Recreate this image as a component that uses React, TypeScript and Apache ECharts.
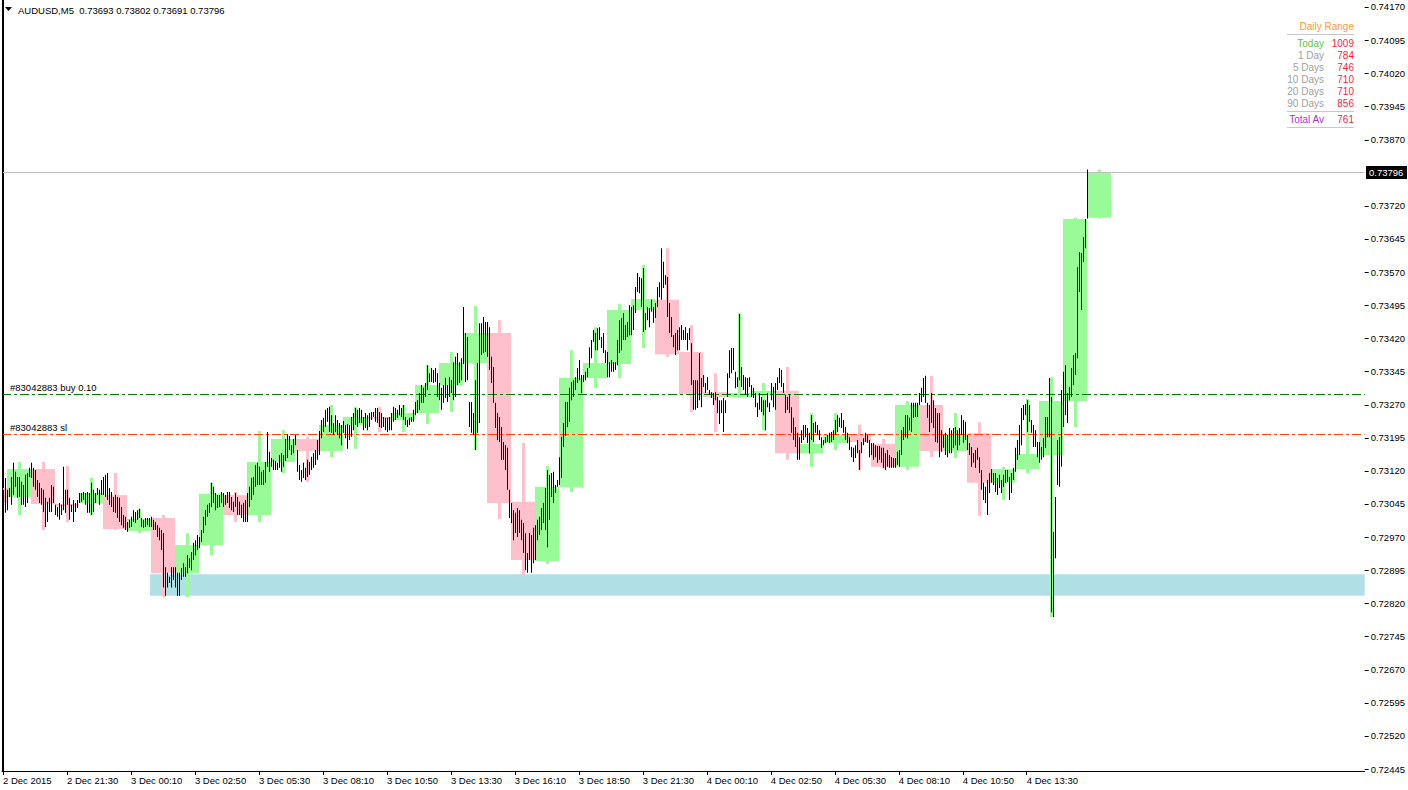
import React, { useEffect, useRef } from "react";
import * as echarts from "echarts";

// ---------------- data ----------------
const symbolName = "AUDUSD";
const periodName = "M5";
const barsPerHour = 12;
const firstHourStart = -10; // bar index at which the first (partly hidden) H1 candle begins

const timeLabelBars = [0, 32, 64, 96, 128, 160, 192, 224, 256, 288, 320, 352, 384, 416, 448, 480, 512];
const timeLabels = [
  "2 Dec 2015", "2 Dec 21:30", "3 Dec 00:10", "3 Dec 02:50", "3 Dec 05:30", "3 Dec 08:10",
  "3 Dec 10:50", "3 Dec 13:30", "3 Dec 16:10", "3 Dec 18:50", "3 Dec 21:30", "4 Dec 00:10",
  "4 Dec 02:50", "4 Dec 05:30", "4 Dec 08:10", "4 Dec 10:50", "4 Dec 13:30",
];

const priceTicks = [
  0.72445, 0.7252, 0.72595, 0.7267, 0.72745, 0.7282, 0.72895, 0.7297, 0.73045, 0.7312, 0.73195,
  0.7327, 0.73345, 0.7342, 0.73495, 0.7357, 0.73645, 0.7372, 0.7387, 0.73945, 0.7402, 0.74095, 0.7417,
];

// M5 bars, 2 Dec 18:50 .. 4 Dec 16:00
const m5High = [
  0.73077, 0.73104,
  0.73077, 0.73081, 0.73106, 0.73138, 0.73118, 0.73106, 0.73106, 0.73095, 0.73088, 0.73111, 0.73115, 0.73127,
  0.73138, 0.73127, 0.73122, 0.73099, 0.73093, 0.73081, 0.73077, 0.73059, 0.7305, 0.73059, 0.73088, 0.73084,
  0.73043, 0.73038, 0.73047, 0.73043, 0.73129, 0.73077, 0.73077, 0.73059, 0.73043, 0.73054, 0.73047, 0.73054,
  0.7307, 0.7307, 0.73072, 0.7307, 0.73072, 0.7307, 0.73093, 0.73077, 0.7307, 0.73081, 0.73077, 0.73099,
  0.73106, 0.73111, 0.73115, 0.73081, 0.73072, 0.73061, 0.73065, 0.73061, 0.73059, 0.73038, 0.7302, 0.73016,
  0.73004, 0.73009, 0.73016, 0.73031, 0.73027, 0.73031, 0.73034, 0.73013, 0.73009, 0.73013, 0.73013, 0.73013,
  0.73016, 0.73009, 0.73004, 0.72997, 0.72991, 0.72986, 0.72979, 0.72902, 0.72889, 0.7288, 0.72902, 0.72902,
  0.72902, 0.72889, 0.72889, 0.729, 0.72911, 0.72902, 0.72929, 0.72922, 0.72936, 0.72957, 0.72963, 0.72975,
  0.7297, 0.72986, 0.73016, 0.73031, 0.73043, 0.73047, 0.73093, 0.73084, 0.7307, 0.73065, 0.73065, 0.73072,
  0.7307, 0.73065, 0.73072, 0.73072, 0.73061, 0.7305, 0.7307, 0.73061, 0.7305, 0.73043, 0.73047, 0.73054,
  0.7307, 0.73084, 0.73104, 0.73106, 0.73133, 0.73138, 0.73129, 0.73118, 0.73122, 0.7314, 0.73208, 0.73163,
  0.73149, 0.73145, 0.73142, 0.73138, 0.73156, 0.7316, 0.73156, 0.73192, 0.73203, 0.73199, 0.73178, 0.73192,
  0.73201, 0.73167, 0.73133, 0.73122, 0.73138, 0.73127, 0.73145, 0.7314, 0.73152, 0.7316, 0.73167, 0.7319,
  0.7321, 0.73235, 0.7324, 0.73258, 0.73262, 0.73265, 0.73246, 0.73228, 0.73246, 0.73235, 0.73228, 0.73224,
  0.73233, 0.73224, 0.73226, 0.73224, 0.73242, 0.73251, 0.73262, 0.73258, 0.73262, 0.73258, 0.73242, 0.73251,
  0.73246, 0.73251, 0.73253, 0.73253, 0.73262, 0.73262, 0.73253, 0.73251, 0.73242, 0.7324, 0.7324, 0.73242,
  0.73251, 0.73265, 0.73262, 0.73258, 0.73269, 0.73262, 0.73269, 0.73242, 0.73235, 0.7324, 0.73242, 0.73258,
  0.73276, 0.7328, 0.73296, 0.73314, 0.73308, 0.73319, 0.73359, 0.73341, 0.73353, 0.73348, 0.73353, 0.73341,
  0.73319, 0.73308, 0.73314, 0.7333, 0.73314, 0.73332, 0.73325, 0.73366, 0.73378, 0.73387, 0.73366, 0.73375,
  0.73491, 0.73432, 0.73423, 0.73276, 0.73276, 0.73251, 0.73325, 0.73364, 0.73454, 0.73454, 0.73468, 0.73457,
  0.73457, 0.73445, 0.73378, 0.73355, 0.73274, 0.73251, 0.73242, 0.73219, 0.73185, 0.73178, 0.73172, 0.73077,
  0.73047, 0.73031, 0.73025, 0.73036, 0.73031, 0.73009, 0.73002, 0.72979, 0.72934, 0.72979, 0.72975, 0.72991,
  0.72997, 0.73009, 0.73016, 0.73036, 0.73047, 0.73081, 0.73122, 0.73111, 0.73115, 0.73118, 0.73088, 0.73099,
  0.73151, 0.73197, 0.73228, 0.73276, 0.73276, 0.73308, 0.73321, 0.73325, 0.73332, 0.73353, 0.73371, 0.73337,
  0.73337, 0.73344, 0.73353, 0.734, 0.73416, 0.73439, 0.73432, 0.73443, 0.73445, 0.73423, 0.73432, 0.73393,
  0.73389, 0.73366, 0.73371, 0.73366, 0.73366, 0.73416, 0.73461, 0.73466, 0.73477, 0.7345, 0.73457, 0.73495,
  0.73491, 0.73495, 0.73536, 0.73568, 0.73559, 0.73556, 0.73579, 0.73477, 0.73491, 0.73488, 0.73507, 0.73491,
  0.735, 0.73536, 0.73547, 0.73624, 0.73593, 0.73563, 0.73559, 0.735, 0.73468, 0.73427, 0.73432, 0.73439,
  0.73445, 0.7345, 0.73439, 0.73445, 0.73432, 0.73443, 0.73409, 0.73325, 0.73325, 0.73325, 0.73387, 0.7333,
  0.73337, 0.73319, 0.73332, 0.73303, 0.73298, 0.73296, 0.73298, 0.73287, 0.7328, 0.7328, 0.73285, 0.7328,
  0.73341, 0.73393, 0.73398, 0.73398, 0.73344, 0.73332, 0.73475, 0.73355, 0.73337, 0.73332, 0.7333, 0.73332,
  0.73314, 0.73308, 0.73296, 0.73274, 0.73296, 0.73287, 0.7328, 0.7328, 0.73296, 0.73274, 0.73319, 0.7331,
  0.73319, 0.73332, 0.73353, 0.73348, 0.73319, 0.73292, 0.73287, 0.73292, 0.73264, 0.7324, 0.73219, 0.73206,
  0.73196, 0.73212, 0.73224, 0.73224, 0.73217, 0.73206, 0.73246, 0.73228, 0.73231, 0.73224, 0.73212, 0.73196,
  0.7319, 0.73196, 0.73201, 0.73206, 0.73208, 0.73212, 0.73235, 0.73246, 0.7324, 0.73251, 0.73235, 0.73219,
  0.73206, 0.73196, 0.73174, 0.73172, 0.73178, 0.7319, 0.73167, 0.73185, 0.73194, 0.73206, 0.73201, 0.7319,
  0.73183, 0.73183, 0.73178, 0.73176, 0.73176, 0.73172, 0.73172, 0.7316, 0.73167, 0.73156, 0.73151, 0.73149,
  0.73149, 0.73163, 0.73167, 0.73212, 0.73219, 0.73246, 0.73246, 0.7324, 0.73274, 0.73274, 0.73274, 0.73274,
  0.73296, 0.73308, 0.7333, 0.73335, 0.73274, 0.73269, 0.73296, 0.7328, 0.73262, 0.73251, 0.73251, 0.73212,
  0.73201, 0.73206, 0.73201, 0.73217, 0.73212, 0.73217, 0.73219, 0.73212, 0.73217, 0.73246, 0.73235, 0.73231,
  0.73201, 0.73183, 0.73174, 0.7316, 0.73167, 0.73172, 0.73151, 0.73122, 0.73093, 0.73084, 0.73099, 0.73115,
  0.73124, 0.73115, 0.73115, 0.73104, 0.73111, 0.73099, 0.73111, 0.73122, 0.73122, 0.73106, 0.73115, 0.73127,
  0.73172, 0.7319, 0.73224, 0.73262, 0.73269, 0.73271, 0.7328, 0.73269, 0.73235, 0.73224, 0.73212, 0.73185,
  0.73185, 0.73174, 0.73194, 0.73242, 0.73242, 0.7333, 0.73287, 0.72982, 0.73061, 0.7319, 0.73196, 0.73303,
  0.73344, 0.73359, 0.73296, 0.7331, 0.73353, 0.73382, 0.73387, 0.73581, 0.73615, 0.73613, 0.73649, 0.7369,
  0.73802,
];

const m5Low = [
  0.73043, 0.73025,
  0.73031, 0.73061, 0.73043, 0.73065, 0.73084, 0.73059, 0.73061, 0.73043, 0.73043, 0.73038, 0.73047, 0.73106,
  0.73104, 0.73084, 0.73077, 0.73061, 0.73047, 0.73043, 0.73027, 0.72993, 0.73004, 0.73027, 0.73027, 0.73047,
  0.7302, 0.73016, 0.73009, 0.7302, 0.73031, 0.73025, 0.73043, 0.73009, 0.73027, 0.73004, 0.73027, 0.73036,
  0.73047, 0.7305, 0.73054, 0.73043, 0.73025, 0.73025, 0.7302, 0.73027, 0.73047, 0.73065, 0.73043, 0.73065,
  0.73065, 0.73061, 0.73054, 0.73043, 0.73038, 0.73027, 0.73025, 0.73013, 0.73004, 0.72997, 0.72991, 0.72986,
  0.72982, 0.72991, 0.72993, 0.73004, 0.73002, 0.73009, 0.73013, 0.72993, 0.72991, 0.72993, 0.72997, 0.72993,
  0.72993, 0.72986, 0.72986, 0.7297, 0.72963, 0.72941, 0.72856, 0.72837, 0.72856, 0.72866, 0.72856, 0.72873,
  0.72856, 0.72837, 0.72837, 0.72873, 0.7288, 0.7288, 0.72888, 0.729, 0.72895, 0.72918, 0.72929, 0.72941,
  0.72945, 0.72959, 0.72979, 0.72997, 0.73016, 0.73025, 0.73038, 0.73047, 0.73031, 0.73036, 0.73038, 0.73047,
  0.73038, 0.73043, 0.73047, 0.73036, 0.73031, 0.73027, 0.73038, 0.7302, 0.7302, 0.73013, 0.73004, 0.73004,
  0.73004, 0.73038, 0.73054, 0.73065, 0.73084, 0.73088, 0.73088, 0.73088, 0.73088, 0.73093, 0.73129, 0.73118,
  0.73129, 0.73122, 0.73122, 0.73122, 0.73127, 0.73118, 0.73129, 0.73142, 0.73149, 0.73167, 0.73156, 0.7316,
  0.73178, 0.73118, 0.73099, 0.73095, 0.73104, 0.73099, 0.73106, 0.73111, 0.73122, 0.73127, 0.73133, 0.73145,
  0.73156, 0.73194, 0.73208, 0.73219, 0.73231, 0.73208, 0.73206, 0.73201, 0.73208, 0.73201, 0.73194, 0.73178,
  0.73206, 0.73194, 0.7317, 0.7319, 0.73197, 0.73212, 0.73224, 0.73219, 0.73228, 0.73228, 0.73212, 0.73217,
  0.73212, 0.73219, 0.73235, 0.73242, 0.73231, 0.73228, 0.73219, 0.73217, 0.73219, 0.73212, 0.73208, 0.73212,
  0.73212, 0.73231, 0.73235, 0.7324, 0.73246, 0.73242, 0.73235, 0.73224, 0.73219, 0.73224, 0.73231, 0.73231,
  0.73246, 0.73251, 0.73258, 0.73274, 0.73274, 0.73287, 0.73303, 0.73321, 0.73321, 0.73319, 0.73321, 0.73287,
  0.7328, 0.73258, 0.73274, 0.73285, 0.73276, 0.73287, 0.73296, 0.7328, 0.73287, 0.73314, 0.73319, 0.73325,
  0.73362, 0.73321, 0.73325, 0.73219, 0.73206, 0.73201, 0.73167, 0.73206, 0.73228, 0.73382, 0.73387, 0.73389,
  0.73378, 0.73348, 0.73319, 0.73274, 0.73217, 0.7319, 0.73185, 0.73145, 0.73145, 0.73122, 0.73077, 0.73013,
  0.73002, 0.72963, 0.72979, 0.7297, 0.72979, 0.72963, 0.72934, 0.72895, 0.72889, 0.72918, 0.72889, 0.72911,
  0.72918, 0.72963, 0.72975, 0.72986, 0.73002, 0.72986, 0.72947, 0.73009, 0.73061, 0.73047, 0.7307, 0.73084,
  0.73088, 0.73104, 0.73174, 0.73199, 0.73219, 0.73231, 0.7328, 0.73287, 0.73303, 0.73319, 0.73325, 0.73296,
  0.73321, 0.73325, 0.73332, 0.73353, 0.73375, 0.73412, 0.73393, 0.73393, 0.73416, 0.73398, 0.73387, 0.73364,
  0.73332, 0.73332, 0.73344, 0.73344, 0.73348, 0.73359, 0.73387, 0.73393, 0.73416, 0.73416, 0.73423, 0.73427,
  0.73427, 0.73439, 0.73477, 0.73525, 0.73522, 0.73491, 0.73434, 0.73439, 0.73461, 0.73445, 0.7348, 0.73455,
  0.73466, 0.73491, 0.73513, 0.73507, 0.73534, 0.73541, 0.73468, 0.73432, 0.73423, 0.734, 0.73382, 0.73393,
  0.73393, 0.73416, 0.73416, 0.73416, 0.73393, 0.73416, 0.73314, 0.73258, 0.73258, 0.73262, 0.7328, 0.73264,
  0.7331, 0.73296, 0.73303, 0.73292, 0.73285, 0.73269, 0.7328, 0.73251, 0.73226, 0.73251, 0.73208, 0.73251,
  0.73287, 0.7333, 0.73341, 0.73348, 0.73307, 0.7331, 0.73325, 0.7331, 0.73303, 0.73292, 0.73287, 0.7331,
  0.73287, 0.73285, 0.73264, 0.73242, 0.73258, 0.73253, 0.73246, 0.73212, 0.73264, 0.73253, 0.7328, 0.73264,
  0.73258, 0.73303, 0.73319, 0.7331, 0.73296, 0.73251, 0.73258, 0.73251, 0.73206, 0.7319, 0.73174, 0.73145,
  0.73145, 0.73183, 0.7319, 0.73196, 0.73183, 0.7316, 0.7319, 0.73185, 0.73206, 0.73201, 0.7319, 0.73172,
  0.73178, 0.73183, 0.73185, 0.73183, 0.73185, 0.7319, 0.73201, 0.73208, 0.73219, 0.73217, 0.73206, 0.7319,
  0.73183, 0.73167, 0.73151, 0.7314, 0.73149, 0.7316, 0.73122, 0.7316, 0.73178, 0.73185, 0.73183, 0.73151,
  0.73156, 0.73145, 0.73151, 0.73138, 0.73145, 0.73138, 0.73127, 0.73122, 0.73129, 0.73127, 0.73127, 0.73127,
  0.73127, 0.73133, 0.73129, 0.73156, 0.7319, 0.73196, 0.73194, 0.73212, 0.73208, 0.7324, 0.73242, 0.73242,
  0.73269, 0.73276, 0.73287, 0.73274, 0.7324, 0.73208, 0.73228, 0.73217, 0.73185, 0.73183, 0.73151, 0.73163,
  0.73172, 0.73156, 0.73151, 0.7316, 0.7316, 0.73172, 0.73178, 0.73167, 0.73178, 0.73201, 0.73183, 0.7319,
  0.73167, 0.73156, 0.73129, 0.73138, 0.73127, 0.73145, 0.73115, 0.73077, 0.73054, 0.73047, 0.7302, 0.7307,
  0.73093, 0.73088, 0.73072, 0.73065, 0.73081, 0.7307, 0.73084, 0.73093, 0.73095, 0.73054, 0.7307, 0.73099,
  0.73118, 0.73145, 0.73156, 0.73178, 0.73235, 0.73246, 0.73208, 0.73231, 0.73206, 0.73174, 0.73174, 0.73151,
  0.73138, 0.73145, 0.73151, 0.73172, 0.73196, 0.73196, 0.728, 0.72789, 0.72922, 0.73088, 0.73084, 0.73129,
  0.73219, 0.73246, 0.73228, 0.7328, 0.73287, 0.73314, 0.73337, 0.73375, 0.73525, 0.73484, 0.73593, 0.73624,
  0.73691,
];
const lastOpen = 0.73693;
const lastClose = 0.73796;

// H1 candles, 2 Dec 18:00 .. 4 Dec 16:00
const h1Open = [
  0.73081, 0.73061, 0.73124, 0.73045, 0.73047, 0.73065, 0.72984, 0.73013, 0.72888, 0.72952, 0.73065, 0.7302,
  0.7314, 0.73192, 0.73165, 0.73224, 0.73242, 0.73235, 0.73251, 0.73314, 0.73364, 0.73432, 0.7305, 0.72916,
  0.73083, 0.7333, 0.73362, 0.73484, 0.73507, 0.73389, 0.73298, 0.73287, 0.73292, 0.73301, 0.7316, 0.73183,
  0.73201, 0.73181, 0.73129, 0.73269, 0.73165, 0.73205, 0.73093, 0.73124, 0.73156, 0.73278, 0.73693,
];
const h1High = [
  0.7311, 0.7314, 0.7314, 0.73131, 0.73104, 0.73115, 0.73034, 0.7302, 0.72979, 0.73093, 0.73072, 0.7321,
  0.73212, 0.73197, 0.73269, 0.73265, 0.73265, 0.73269, 0.73359, 0.73389, 0.73493, 0.73461, 0.73183, 0.73131,
  0.73393, 0.73445, 0.73498, 0.73586, 0.73624, 0.7345, 0.73341, 0.73477, 0.73319, 0.73355, 0.73251, 0.73251,
  0.73224, 0.73192, 0.73278, 0.73335, 0.73251, 0.7323, 0.73129, 0.73283, 0.73332, 0.73693, 0.73802,
];
const h1Low = [
  0.7302, 0.7302, 0.72986, 0.73004, 0.7302, 0.72986, 0.72979, 0.72834, 0.72834, 0.72929, 0.73004, 0.73004,
  0.73115, 0.73095, 0.73151, 0.7317, 0.73208, 0.73208, 0.73226, 0.73253, 0.73167, 0.73011, 0.72884, 0.72909,
  0.73072, 0.73307, 0.7333, 0.73398, 0.73378, 0.73253, 0.73208, 0.73285, 0.73212, 0.73145, 0.73129, 0.73167,
  0.73122, 0.73124, 0.73122, 0.73151, 0.73149, 0.73018, 0.73054, 0.73115, 0.72789, 0.73219, 0.73691,
];
const h1Close = [
  0.73047, 0.73124, 0.73045, 0.7304, 0.7307, 0.72988, 0.73011, 0.72888, 0.72952, 0.73068, 0.7302, 0.7314,
  0.73192, 0.73165, 0.73224, 0.73242, 0.73237, 0.73251, 0.73314, 0.73364, 0.73432, 0.73047, 0.72918, 0.73084,
  0.7333, 0.73364, 0.73484, 0.73509, 0.73384, 0.73294, 0.73287, 0.73296, 0.73301, 0.7316, 0.73181, 0.73201,
  0.73185, 0.73129, 0.73269, 0.73165, 0.73203, 0.73093, 0.73124, 0.73158, 0.73278, 0.7369, 0.73796,
];

// order lines and support zone
const orderTicket = "#83042883";
const buyLots = "0.10";
const buyPrice = 0.73294;
const slPrice = 0.73203;
const zoneStartBar = 74;
const zoneTop = 0.72886;
const zoneBottom = 0.72837;

// daily range panel
const rangeTitle = "Daily Range";
const rangeLabels = ["Today", "1 Day", "5 Days", "10 Days", "20 Days", "90 Days"];
const rangeValues = [1009, 784, 746, 710, 710, 856];
const totalAvLabel = "Total Av";
const totalAvValue = 761;

// ---------------- styles ----------------
const FONT = 'Tahoma, "Liberation Sans", Arial, sans-serif';
const FS = 9.5;
const GREEN = "#98FB98";
const PINK = "#FFC0CB";
const X_MIN = -0.5;
const X_MAX = 681;

const levelPrices = [lastClose, buyPrice, slPrice];
const levelColors = ["#C0C0C0", "#008000", "#FF4500"];
const levelDash: (number[] | null)[] = [null, [9, 3, 3, 3], [9, 3, 3, 3]];
const levelTexts = ["", `${orderTicket} buy ${buyLots}`, `${orderTicket} sl`];

export default function App() {
  const ref = useRef<HTMLDivElement>(null);

  useEffect(() => {
    const el = ref.current;
    if (!el) return;
    const chart = echarts.init(el, null, { renderer: "svg" });

    const m5Data = m5High.map((h, i) => [i, m5Low[i], h]);
    const h1Data = h1Open.map((o, k) => [firstHourStart + k * barsPerHour, o, h1High[k], h1Low[k], h1Close[k]]);
    const levelData = levelPrices.map((p, k) => [0, p, k]);
    const tickData = priceTicks.map((p) => [0, p]);

    chart.setOption({
      animation: false,
      backgroundColor: "#ffffff",
      grid: { left: 2, right: 43, top: 0, bottom: 19, containLabel: false },
      xAxis: {
        type: "value",
        min: X_MIN,
        max: X_MAX,
        splitLine: { show: false },
        axisLine: { show: true, onZero: false, lineStyle: { color: "#000", width: 1 } },
        axisTick: { show: true, customValues: timeLabelBars, length: 4, lineStyle: { color: "#000" } },
        axisLabel: {
          show: true,
          customValues: timeLabelBars,
          formatter: (v: number) => {
            const k = timeLabelBars.indexOf(Math.round(v));
            return k >= 0 ? timeLabels[k] : "";
          },
          align: "left",
          margin: 4,
          color: "#000",
          fontSize: FS,
          fontFamily: FONT,
        },
      },
      yAxis: {
        type: "value",
        position: "right",
        min: 0.724405,
        max: 0.741858,
        splitLine: { show: false },
        axisLine: { show: true, lineStyle: { color: "#000", width: 1 } },
        axisTick: { show: false },
        axisLabel: {
          customValues: priceTicks,
          formatter: (v: number) => v.toFixed(5),
          margin: 6,
          color: "#000",
          fontSize: FS,
          fontFamily: FONT,
        },
      },
      series: [
        {
          type: "line",
          data: [],
          z: 1,
          silent: true,
          markArea: {
            silent: true,
            itemStyle: { color: "#B0E0E6", opacity: 1 },
            data: [[{ xAxis: zoneStartBar - 0.5, yAxis: zoneTop }, { xAxis: X_MAX, yAxis: zoneBottom }]],
          },
        },
        {
          type: "custom",
          z: 2,
          clip: true,
          silent: true,
          encode: { x: 0, y: [1, 2, 3, 4] },
          data: h1Data,
          renderItem: (params: any, api: any) => {
            const s = api.value(0);
            const o = api.value(1);
            const h = api.value(2);
            const l = api.value(3);
            const c = api.value(4);
            const pO = api.coord([s, o]);
            const pC = api.coord([s, c]);
            const pH = api.coord([s + barsPerHour / 2, h]);
            const pL = api.coord([s, l]);
            const pEnd = api.coord([s + barsPerHour, o]);
            const color = c >= o ? GREEN : PINK;
            const top = Math.min(pO[1], pC[1]);
            const bodyH = Math.max(1, Math.abs(pO[1] - pC[1]));
            const x0 = Math.round(pO[0]);
            const x1 = Math.round(pEnd[0]);
            return {
              type: "group",
              children: [
                {
                  type: "rect",
                  shape: { x: Math.round(pH[0]) - 1, y: pH[1], width: 3, height: Math.max(1, pL[1] - pH[1]) },
                  style: { fill: color },
                },
                { type: "rect", shape: { x: x0, y: top, width: x1 - x0, height: bodyH }, style: { fill: color } },
              ],
            };
          },
        },
        {
          type: "custom",
          z: 3,
          clip: false,
          silent: true,
          encode: { x: 0, y: 1 },
          data: levelData,
          renderItem: (params: any, api: any) => {
            const cs = params.coordSys;
            const k = api.value(2);
            const y = Math.round(api.coord([0, api.value(1)])[1]) + 0.5;
            const children: any[] = [
              {
                type: "line",
                shape: { x1: cs.x, y1: y, x2: cs.x + cs.width, y2: y },
                style: { stroke: levelColors[k], lineWidth: 1, lineDash: levelDash[k] || undefined },
              },
            ];
            if (levelTexts[k]) {
              children.push({
                type: "text",
                x: cs.x + 8,
                y: y - 2,
                style: {
                  text: levelTexts[k],
                  fill: "#000",
                  fontSize: FS,
                  fontFamily: FONT,
                  textVerticalAlign: "bottom",
                },
              });
            }
            return { type: "group", children };
          },
        },
        {
          type: "custom",
          z: 3,
          clip: false,
          silent: true,
          encode: { x: 0, y: 1 },
          data: tickData,
          renderItem: (params: any, api: any) => {
            const cs = params.coordSys;
            const y = Math.round(api.coord([0, api.value(1)])[1]) + 0.5;
            const x = cs.x + cs.width;
            return { type: "line", shape: { x1: x, y1: y, x2: x + 4, y2: y }, style: { stroke: "#000", lineWidth: 1 } };
          },
        },
        {
          type: "custom",
          z: 4,
          clip: true,
          silent: true,
          encode: { x: 0, y: [1, 2] },
          data: m5Data,
          renderItem: (params: any, api: any) => {
            const i = api.value(0);
            const pLo = api.coord([i, api.value(1)]);
            const pHi = api.coord([i, api.value(2)]);
            return {
              type: "rect",
              shape: { x: Math.round(pHi[0]), y: pHi[1], width: 1, height: Math.max(1, pLo[1] - pHi[1]) },
              style: { fill: "#000" },
            };
          },
        },
      ],
    });

    const yBid = chart.convertToPixel({ yAxisIndex: 0 }, lastClose) as number;
    const last = m5High.length - 1;
    const title = `${symbolName},${periodName}  ${lastOpen.toFixed(5)} ${m5High[last].toFixed(5)} ${m5Low[last].toFixed(
      5
    )} ${lastClose.toFixed(5)}`;

    const panel: any[] = [
      {
        type: "text",
        x: 1354,
        y: 26,
        style: { text: rangeTitle, fill: "#FF9933", fontSize: 10, fontFamily: FONT, textAlign: "right", textVerticalAlign: "middle" },
      },
      { type: "line", shape: { x1: 1287, y1: 34.5, x2: 1354, y2: 34.5 }, style: { stroke: "#C8C8C8", lineWidth: 1 } },
    ];
    rangeLabels.forEach((lab, r) => {
      const y = 43 + r * 12;
      panel.push({
        type: "text",
        x: 1324,
        y,
        style: {
          text: lab,
          fill: r === 0 ? "#5DC83A" : "#A0A0A0",
          fontSize: 10,
          fontFamily: FONT,
          textAlign: "right",
          textVerticalAlign: "middle",
        },
      });
      panel.push({
        type: "text",
        x: 1354,
        y,
        style: { text: String(rangeValues[r]), fill: "#FF1E3C", fontSize: 10, fontFamily: FONT, textAlign: "right", textVerticalAlign: "middle" },
      });
    });
    panel.push(
      { type: "line", shape: { x1: 1287, y1: 111.5, x2: 1354, y2: 111.5 }, style: { stroke: "#C8C8C8", lineWidth: 1 } },
      {
        type: "text",
        x: 1324,
        y: 119,
        style: { text: totalAvLabel, fill: "#A633D6", fontSize: 10, fontFamily: FONT, textAlign: "right", textVerticalAlign: "middle" },
      },
      {
        type: "text",
        x: 1354,
        y: 119,
        style: { text: String(totalAvValue), fill: "#FF1E3C", fontSize: 10, fontFamily: FONT, textAlign: "right", textVerticalAlign: "middle" },
      },
      { type: "line", shape: { x1: 1287, y1: 127.5, x2: 1354, y2: 127.5 }, style: { stroke: "#C8C8C8", lineWidth: 1 } }
    );

    chart.setOption({
      graphic: [
        { type: "line", shape: { x1: 2.5, y1: 0, x2: 2.5, y2: 771 }, style: { stroke: "#000", lineWidth: 1 }, z: 10 },
        { type: "polygon", shape: { points: [[5, 7], [12, 7], [8.5, 11]] }, style: { fill: "#000" }, z: 10 },
        {
          type: "text",
          x: 18,
          y: 10,
          style: { text: title, fill: "#000", fontSize: FS, fontFamily: FONT, textVerticalAlign: "middle" },
          z: 10,
        },
        ...panel,
        { type: "rect", shape: { x: 1366, y: Math.round(yBid) - 6, width: 41, height: 13 }, style: { fill: "#000" }, z: 10 },
        {
          type: "text",
          x: 1369,
          y: Math.round(yBid) + 0.5,
          style: { text: lastClose.toFixed(5), fill: "#fff", fontSize: FS, fontFamily: FONT, textVerticalAlign: "middle" },
          z: 11,
        },
      ],
    });

    return () => {
      chart.dispose();
    };
  }, []);

  return (
    <div
      ref={ref}
      style={{ position: "fixed", left: 0, top: 0, width: 1408, height: 790, background: "#ffffff" }}
    />
  );
}
